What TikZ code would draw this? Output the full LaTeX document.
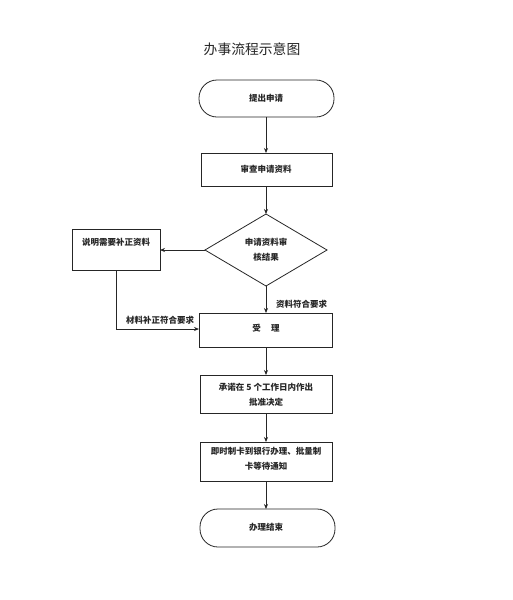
\documentclass[tikz,border=0pt]{standalone}
\usepackage{fontspec}
\newfontfamily\cjk{Noto Sans CJK SC}
\usetikzlibrary{arrows.meta,shapes.geometric}
\begin{document}
\begin{tikzpicture}[x=1pt,y=-1pt,
  line/.style={draw=black!85,line width=0.8pt},
  arr/.style={line,-{Stealth[length=5pt,width=4pt]}},
  txt/.style={font=\cjk\bfseries\fontsize{8.5}{15}\selectfont,text=black!85,align=center,inner sep=0pt},
  boxshape/.style={line,fill=white}
]
\useasboundingbox[fill=white] (0,0) rectangle (512,600);
\node[font=\cjk\fontsize{13.8}{15}\selectfont,text=black!85] (title) at (252,49) {办事流程示意图};

% terminal start
\draw[boxshape,rounded corners=18pt] (199,80) rectangle (334,117);
\node[txt] (start) at (266,98) {提出申请};
\coordinate (startb) at (266,117);

% review box
\draw[boxshape] (201,153) rectangle (332,186);
\node[txt] (review) at (266,169) {审查申请资料};
\coordinate (reviewt) at (266,153);
\coordinate (reviewb) at (266,186);

% diamond
\draw[boxshape] (266,214) -- (327,250) -- (266,286) -- (205,250) -- cycle;
\node[txt] (dec) at (266,250) {申请资料审\\核结果};
\coordinate (dect) at (266,214);
\coordinate (decl) at (205,250);
\coordinate (decb) at (266,286);

% left box
\draw[boxshape] (72,229) rectangle (160,270);
\node[txt] (fix) at (116,242) {说明需要补正资料};
\coordinate (fixr) at (160,250);
\coordinate (fixb) at (116,270);
\coordinate (fixc) at (116,329);

% accept box
\draw[boxshape] (199,313) rectangle (332,347);
\node[txt] (acc) at (266,328) {受\hspace{1.2em}理};
\coordinate (acct) at (266,313);
\coordinate (accl) at (199,329);
\coordinate (accb) at (266,347);

% promise box
\draw[boxshape] (200,375) rectangle (332,413);
\node[txt] (prom) at (266,395) {承诺在 5 个工作日内作出\\批准决定};
\coordinate (promt) at (266,375);
\coordinate (promb) at (266,413);

% card box
\draw[boxshape] (200,442) rectangle (332,481);
\node[txt] (card) at (266,459) {即时制卡到银行办理、批量制\\卡等待通知};
\coordinate (cardt) at (266,442);
\coordinate (cardb) at (266,481);

% terminal end
\draw[boxshape,rounded corners=18pt] (200,509) rectangle (335,547);
\node[txt] (end) at (266,527) {办理结束};
\coordinate (endt) at (266,509);

% connectors
\draw[arr] (startb) -- (reviewt);
\draw[arr] (reviewb) -- (dect);
\draw[arr] (decl) -- (fixr);
\draw[arr] (decb) -- (acct);
\draw[arr] (fixb) -- (fixc) -- (accl);
\draw[arr] (accb) -- (promt);
\draw[arr] (promb) -- (cardt);
\draw[arr] (cardb) -- (endt);

% labels
\node[txt,anchor=west] (l1) at (276,304) {资料符合要求};
\node[txt] (l2) at (160,320) {材料补正符合要求};
\end{tikzpicture}
\end{document}
